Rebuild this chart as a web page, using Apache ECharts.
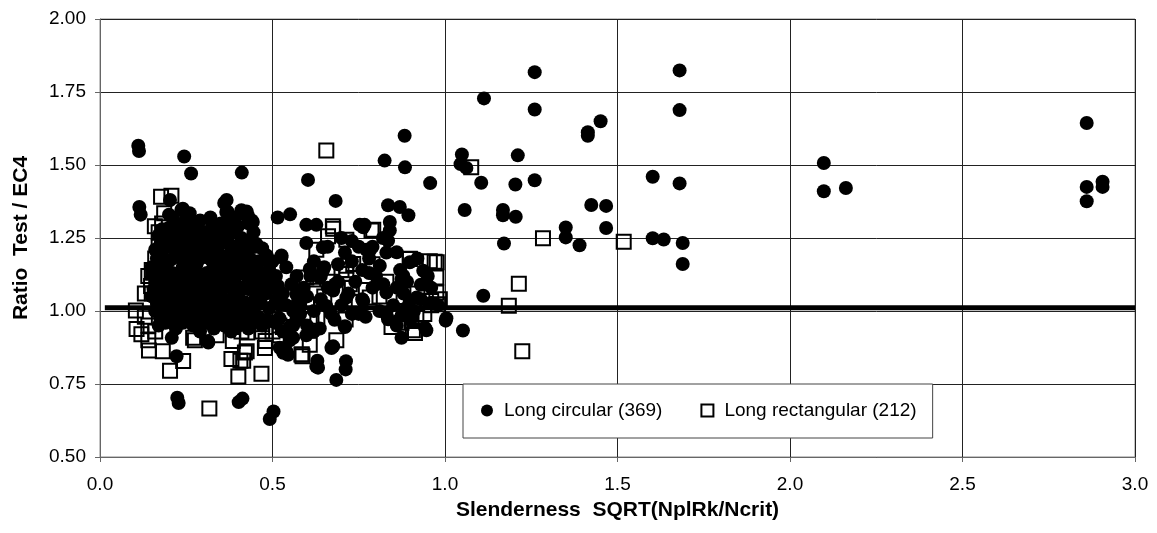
<!DOCTYPE html>
<html>
<head>
<meta charset="utf-8">
<title>Ratio Test / EC4</title>
<script src="https://cdn.jsdelivr.net/npm/echarts@6.0.0/dist/echarts.min.js"></script>
<style>
  html, body { margin: 0; padding: 0; background: #fff; }
  #main { width: 1157px; height: 533px; }
</style>
</head>
<body>
<div id="main"></div>
<script>
// Long circular columns: [slenderness, ratio]
const circularOuter = [
  [0.111, 1.566], [0.113, 1.548], [0.114, 1.356], [0.118, 1.330],
  [0.244, 1.529], [0.264, 1.471], [0.411, 1.474],
  [0.224, 0.703], [0.228, 0.685], [0.402, 0.688], [0.413, 0.700], [0.492, 0.630], [0.503, 0.656],
  [0.603, 1.449], [0.683, 1.377], [0.515, 1.320], [0.551, 1.331],
  [0.685, 0.764], [0.712, 0.800], [0.713, 0.828], [0.632, 0.806], [0.630, 0.830], [0.672, 0.877],
  [0.825, 1.515], [0.883, 1.600], [0.884, 1.492], [0.957, 1.438],
  [1.049, 1.536], [1.045, 1.503], [1.062, 1.490], [1.113, 1.728], [1.057, 1.346], [1.105, 1.439],
  [1.052, 0.933], [1.111, 1.052], [1.004, 0.975],
  [1.168, 1.346], [1.168, 1.328], [1.171, 1.231], [1.211, 1.533], [1.204, 1.433], [1.205, 1.323],
  [1.260, 1.818], [1.260, 1.690], [1.260, 1.448],
  [1.350, 1.286], [1.350, 1.252], [1.390, 1.225], [1.414, 1.612], [1.414, 1.600], [1.451, 1.650],
  [1.424, 1.363], [1.467, 1.360], [1.467, 1.284], [1.602, 1.460], [1.602, 1.249], [1.634, 1.245],
  [1.680, 1.824], [1.680, 1.688], [1.680, 1.437], [1.689, 1.233], [1.689, 1.161],
  [2.098, 1.507], [2.098, 1.410], [2.162, 1.421],
  [2.860, 1.644], [2.860, 1.425], [2.860, 1.376], [2.906, 1.443], [2.906, 1.425]
];
const circularEdge = [
  [0.208, 0.908], [0.222, 0.845], [0.314, 0.892], [0.396, 0.945], [0.203, 1.380], [0.367, 1.380],
  [0.366, 1.339], [0.236, 1.347], [0.250, 1.320], [0.428, 1.328], [0.443, 1.305], [0.425, 1.341],
  [0.434, 1.312], [0.415, 1.244], [0.454, 1.227], [0.483, 1.190], [0.526, 1.190], [0.425, 1.200],
  [0.492, 1.161], [0.526, 1.184], [0.453, 1.230], [0.472, 1.115],
  [0.598, 1.295], [0.627, 1.295], [0.598, 1.233], [0.646, 1.218], [0.608, 1.144], [0.646, 1.138],
  [0.681, 1.092], [0.656, 1.017], [0.710, 0.948], [0.676, 0.879], [0.540, 0.862], [0.521, 0.874],
  [0.560, 0.908], [0.516, 1.086], [0.555, 1.092], [0.569, 1.057], [0.492, 0.966], [0.443, 0.983],
  [0.313, 0.897], [0.753, 1.295], [0.763, 1.287], [0.782, 1.207], [0.811, 1.155], [0.821, 1.092],
  [0.714, 1.046], [0.763, 1.034], [0.918, 1.046], [0.947, 1.092], [0.889, 1.011],
  [0.835, 1.362], [0.869, 1.356], [0.894, 1.328], [0.840, 1.305], [0.840, 1.276], [0.835, 1.241],
  [0.860, 1.201], [0.879, 1.121], [0.898, 1.167], [0.937, 1.138], [0.830, 1.063], [0.830, 0.989],
  [0.874, 0.908], [0.942, 0.943], [0.767, 1.295], [0.772, 1.210],
  [0.516, 1.070], [0.574, 1.030], [0.483, 0.970], [0.550, 0.945], [0.569, 0.970], [0.637, 0.940],
  [0.531, 0.857], [0.545, 0.850], [0.627, 0.810], [0.671, 0.873], [0.710, 0.945], [0.637, 1.115],
  [0.676, 1.070], [0.598, 0.917], [0.434, 0.994],
  [0.874, 1.110], [0.835, 0.972], [0.946, 0.934], [1.002, 0.967], [0.898, 1.033], [0.946, 1.094],
  [0.960, 1.027], [0.874, 0.984]
];
const circularCore = [
  [0.20, 1.33], [0.22, 1.30], [0.25, 1.32], [0.27, 1.30], [0.35, 1.30], [0.37, 1.34], [0.39, 1.32],
  [0.42, 1.33], [0.43, 1.30], [0.44, 1.31], [0.24, 1.35], [0.36, 1.37], [0.30, 1.27], [0.33, 1.28],
  [0.17, 1.26], [0.19, 1.25], [0.21, 1.27], [0.23, 1.24], [0.26, 1.26], [0.28, 1.24], [0.31, 1.25],
  [0.34, 1.26], [0.36, 1.24], [0.39, 1.27], [0.41, 1.25], [0.45, 1.22], [0.43, 1.24],
  [0.16, 1.21], [0.18, 1.19], [0.20, 1.22], [0.22, 1.20], [0.25, 1.19], [0.27, 1.21], [0.29, 1.19],
  [0.32, 1.22], [0.34, 1.20], [0.37, 1.19], [0.40, 1.21], [0.42, 1.18], [0.46, 1.17], [0.48, 1.19],
  [0.15, 1.15], [0.17, 1.14], [0.19, 1.16], [0.21, 1.13], [0.24, 1.15], [0.26, 1.14], [0.28, 1.16],
  [0.31, 1.13], [0.33, 1.15], [0.35, 1.14], [0.38, 1.16], [0.40, 1.13], [0.43, 1.14], [0.45, 1.12],
  [0.49, 1.14], [0.16, 1.10], [0.18, 1.09], [0.20, 1.11], [0.23, 1.08], [0.25, 1.10], [0.27, 1.09],
  [0.30, 1.11], [0.32, 1.08], [0.34, 1.10], [0.36, 1.09], [0.39, 1.11], [0.41, 1.08], [0.44, 1.09],
  [0.47, 1.10], [0.15, 1.05], [0.17, 1.04], [0.19, 1.06], [0.22, 1.05], [0.24, 1.03], [0.26, 1.06],
  [0.29, 1.04], [0.31, 1.05], [0.33, 1.03], [0.35, 1.06], [0.38, 1.04], [0.40, 1.05], [0.42, 1.03],
  [0.45, 1.04], [0.48, 1.06], [0.16, 1.00], [0.18, 0.99], [0.21, 1.01], [0.23, 0.99], [0.25, 1.00],
  [0.28, 0.98], [0.30, 1.01], [0.32, 0.99], [0.34, 1.00], [0.37, 0.98], [0.39, 1.01], [0.41, 0.99],
  [0.44, 1.00], [0.46, 0.98], [0.49, 1.01], [0.17, 0.95], [0.19, 0.96], [0.22, 0.94], [0.24, 0.96],
  [0.27, 0.95], [0.29, 0.93], [0.31, 0.96], [0.33, 0.94], [0.36, 0.95], [0.38, 0.93], [0.40, 0.96],
  [0.43, 0.94], [0.47, 0.95], [0.51, 0.96]
];
const circularCoreFill = [
  [0.21, 1.32], [0.26, 1.335], [0.29, 1.31], [0.32, 1.32], [0.38, 1.31], [0.41, 1.345],
  [0.18, 1.28], [0.20, 1.285], [0.235, 1.275], [0.255, 1.29], [0.285, 1.28], [0.325, 1.29],
  [0.355, 1.285], [0.375, 1.27], [0.40, 1.29], [0.445, 1.27],
  [0.175, 1.23], [0.195, 1.235], [0.215, 1.225], [0.245, 1.22], [0.265, 1.235], [0.295, 1.225],
  [0.315, 1.235], [0.345, 1.225], [0.375, 1.23], [0.395, 1.22], [0.425, 1.225], [0.47, 1.215],
  [0.165, 1.18], [0.185, 1.17], [0.205, 1.175], [0.235, 1.18], [0.255, 1.165], [0.285, 1.175],
  [0.305, 1.185], [0.325, 1.17], [0.355, 1.175], [0.385, 1.18], [0.41, 1.17], [0.435, 1.18],
  [0.455, 1.16], [0.50, 1.17],
  [0.155, 1.125], [0.175, 1.12], [0.205, 1.13], [0.225, 1.12], [0.245, 1.125], [0.275, 1.13],
  [0.295, 1.12], [0.325, 1.125], [0.345, 1.13], [0.375, 1.12], [0.395, 1.13], [0.425, 1.12],
  [0.465, 1.13], [0.50, 1.12],
  [0.155, 1.075], [0.185, 1.07], [0.21, 1.08], [0.235, 1.065], [0.26, 1.075], [0.285, 1.07],
  [0.31, 1.08], [0.335, 1.065], [0.355, 1.075], [0.38, 1.08], [0.405, 1.07], [0.43, 1.075],
  [0.46, 1.07], [0.50, 1.08], [0.53, 1.06],
  [0.165, 1.025], [0.195, 1.03], [0.215, 1.02], [0.235, 1.03], [0.265, 1.025], [0.29, 1.02],
  [0.315, 1.03], [0.34, 1.025], [0.365, 1.02], [0.39, 1.03], [0.415, 1.025], [0.435, 1.02],
  [0.465, 1.03], [0.51, 1.035], [0.54, 1.02],
  [0.175, 0.975], [0.20, 0.98], [0.225, 0.97], [0.245, 0.975], [0.27, 0.98], [0.295, 0.97],
  [0.32, 0.975], [0.345, 0.98], [0.37, 0.965], [0.395, 0.975], [0.42, 0.97], [0.45, 0.965],
  [0.52, 0.975], [0.58, 0.99]
];
const circularMid = [
  [0.58, 1.02], [0.60, 1.05], [0.62, 1.00], [0.64, 1.04], [0.66, 1.08], [0.70, 1.02], [0.72, 1.06],
  [0.74, 1.10], [0.76, 1.14], [0.78, 1.18], [0.80, 1.12], [0.69, 1.16], [0.71, 1.20], [0.73, 1.24],
  [0.75, 1.22], [0.66, 1.22], [0.62, 1.17], [0.64, 1.12], [0.57, 0.97], [0.60, 0.95], [0.53, 0.93],
  [0.55, 0.90], [0.56, 1.00], [0.52, 1.02], [0.51, 1.12], [0.54, 1.15], [0.76, 1.04], [0.79, 1.08],
  [0.81, 1.00], [0.77, 0.98], [0.73, 0.99], [0.68, 0.97],
  [0.85, 1.02], [0.88, 1.06], [0.91, 1.00], [0.93, 1.04], [0.96, 1.08], [0.98, 1.02], [0.86, 0.95],
  [0.90, 0.97], [0.87, 1.14], [0.92, 1.18], [0.95, 1.12], [0.83, 1.20], [0.82, 1.25],
  [0.59, 1.08], [0.61, 1.12], [0.65, 1.15], [0.69, 1.10], [0.73, 1.17], [0.78, 1.13], [0.79, 1.22],
  [0.70, 1.25], [0.57, 1.12], [0.56, 0.95], [0.62, 0.93], [0.67, 0.99], [0.75, 0.99], [0.86, 1.08],
  [0.89, 1.10], [0.93, 1.09]
];

// Long rectangular columns: [slenderness, ratio]
const rectangularOuter = [
  [0.656, 1.550], [0.317, 0.666], [0.203, 0.795], [0.241, 0.829], [0.401, 0.776], [0.468, 0.785],
  [0.407, 0.830], [0.381, 0.836], [0.420, 0.858], [0.478, 0.873], [0.480, 0.897], [0.587, 0.845],
  [0.608, 0.884], [0.685, 0.900], [0.712, 0.971],
  [0.106, 0.938], [0.104, 1.002], [0.142, 0.865], [0.140, 0.900], [0.182, 0.862], [0.177, 1.391],
  [0.207, 1.395], [0.186, 1.335], [0.159, 1.290], [0.154, 1.131], [0.150, 1.060], [0.148, 1.086],
  [0.270, 0.908], [0.427, 0.926], [0.385, 0.897], [0.338, 0.917], [0.275, 0.900],
  [0.676, 1.282], [0.787, 1.276], [0.714, 1.155], [0.618, 1.108], [0.613, 1.020], [0.898, 1.178],
  [0.976, 1.167], [0.975, 1.063], [0.903, 0.966], [0.913, 0.925], [0.840, 0.989], [0.584, 0.851],
  [0.608, 0.971], [0.980, 1.023], [0.960, 1.034], [0.874, 0.960], [0.734, 1.161], [0.724, 1.092],
  [0.782, 1.046], [0.627, 1.069], [0.598, 1.115], [0.675, 1.290], [0.714, 1.244], [0.627, 1.210],
  [0.661, 1.256], [0.792, 1.278], [0.956, 1.170], [0.985, 1.040], [0.975, 1.115], [0.907, 0.934],
  [0.845, 0.945], [0.917, 0.978], [0.521, 0.917], [0.613, 0.972], [0.714, 1.127], [0.425, 0.862],
  [0.415, 0.830], [0.585, 0.851],
  [1.076, 1.492], [1.284, 1.249], [1.518, 1.237], [1.214, 1.093], [1.185, 1.018], [1.224, 0.862],
  [0.970, 1.169], [0.898, 1.179]
];
const rectangularCore = [
  [0.13, 1.06], [0.14, 1.12], [0.15, 1.14], [0.16, 1.18], [0.17, 1.22], [0.17, 1.27], [0.18, 1.30],
  [0.13, 0.98], [0.14, 0.95], [0.12, 0.92], [0.16, 0.93], [0.268, 1.215], [0.285, 1.195],
  [0.20, 1.10], [0.22, 1.15], [0.25, 1.05], [0.28, 1.12], [0.30, 1.20], [0.26, 0.98], [0.29, 1.00],
  [0.33, 1.06], [0.35, 0.97], [0.37, 1.12], [0.40, 1.02], [0.43, 0.96], [0.45, 1.08], [0.47, 0.93],
  [0.48, 0.99], [0.50, 1.02], [0.52, 0.95], [0.54, 0.98], [0.56, 1.05], [0.60, 1.02], [0.63, 0.98],
  [0.65, 1.05], [0.67, 1.10], [0.70, 1.14], [0.73, 1.08], [0.75, 1.03], [0.77, 1.12], [0.79, 1.16],
  [0.81, 1.05], [0.83, 1.10], [0.86, 1.00], [0.88, 1.03], [0.92, 1.06], [0.94, 0.99], [0.96, 1.02],
  [0.38, 0.95], [0.41, 0.93], [0.47, 0.955], [0.50, 0.93], [0.53, 0.945]
];

// EC4 = test line
const refLineX = [0.014, 3.0];
const refLineY = [1.011, 1.011];

const xTicks = ['0.0', '0.5', '1.0', '1.5', '2.0', '2.5', '3.0'];
const yTicks = ['0.50', '0.75', '1.00', '1.25', '1.50', '1.75', '2.00'];

const circularData = circularOuter.concat(circularEdge, circularCore, circularCoreFill, circularMid);
const rectangularData = rectangularOuter.concat(rectangularCore);
const refLineData = refLineX.map((x, i) => [x, refLineY[i]]);

const font = "'Liberation Sans', Arial, sans-serif";

const myChart = echarts.init(document.getElementById('main'));
const option = {
  animation: false,
  backgroundColor: '#fff',
  grid: {
    left: 100,
    right: 22,
    top: 19,
    bottom: 76,
    show: true,
    borderColor: '#888',
    borderWidth: 1
  },
  legend: {
    left: 463,
    top: 384,
    orient: 'horizontal',
    backgroundColor: '#fff',
    borderColor: '#444',
    borderWidth: 1,
    borderRadius: 0,
    padding: [17, 16, 18, 18],
    itemGap: 38,
    itemWidth: 12,
    itemHeight: 12,
    textStyle: { fontFamily: font, fontSize: 19, color: '#000', padding: [0, 0, 0, 6] },
    data: ['Long circular (369)', 'Long rectangular (212)']
  },
  xAxis: {
    type: 'value',
    min: 0,
    max: 3,
    interval: 0.5,
    name: 'Slenderness  SQRT(NplRk/Ncrit)',
    nameLocation: 'middle',
    nameGap: 43,
    nameTextStyle: { fontFamily: font, fontSize: 21, fontWeight: 'bold', color: '#000' },
    axisLine: { lineStyle: { color: '#666', width: 1 } },
    axisTick: { show: true, inside: false, length: 5, lineStyle: { color: '#666' } },
    axisLabel: {
      margin: 18,
      fontFamily: font,
      fontSize: 19,
      color: '#000',
      formatter: function(v) { return xTicks[Math.round(v / 0.5)] }
    },
    splitLine: { show: true, lineStyle: { color: '#222', width: 1 } }
  },
  yAxis: {
    type: 'value',
    min: 0.5,
    max: 2.0,
    interval: 0.25,
    name: 'Ratio  Test / EC4',
    nameLocation: 'middle',
    nameGap: 68,
    nameTextStyle: { fontFamily: font, fontSize: 21, fontWeight: 'bold', color: '#000' },
    axisLine: { show: true, lineStyle: { color: '#666', width: 1 } },
    axisTick: { show: true, inside: false, length: 5, lineStyle: { color: '#666' } },
    axisLabel: {
      margin: 14,
      fontFamily: font,
      fontSize: 19,
      color: '#000',
      formatter: function(v) { return yTicks[Math.round((v - 0.5) / 0.25)] }
    },
    splitLine: { show: true, lineStyle: { color: '#222', width: 1 } }
  },
  series: [
    {
      name: 'Long circular (369)',
      type: 'scatter',
      symbol: 'circle',
      symbolSize: 14,
      itemStyle: { color: '#000', opacity: 1 },
      data: circularData,
      z: 2
    },
    {
      name: 'EC4',
      type: 'line',
      symbol: 'none',
      lineStyle: { color: '#000', width: 5, cap: 'butt' },
      data: refLineData,
      clip: false,
      z: 3
    },
    {
      name: 'Long rectangular (212)',
      type: 'scatter',
      symbol: 'rect',
      symbolSize: 14,
      itemStyle: { color: 'rgba(0,0,0,0)', borderColor: '#000', borderWidth: 2, opacity: 1 },
      data: rectangularData,
      z: 4
    }
  ]
};
myChart.setOption(option);
</script>
</body>
</html>
